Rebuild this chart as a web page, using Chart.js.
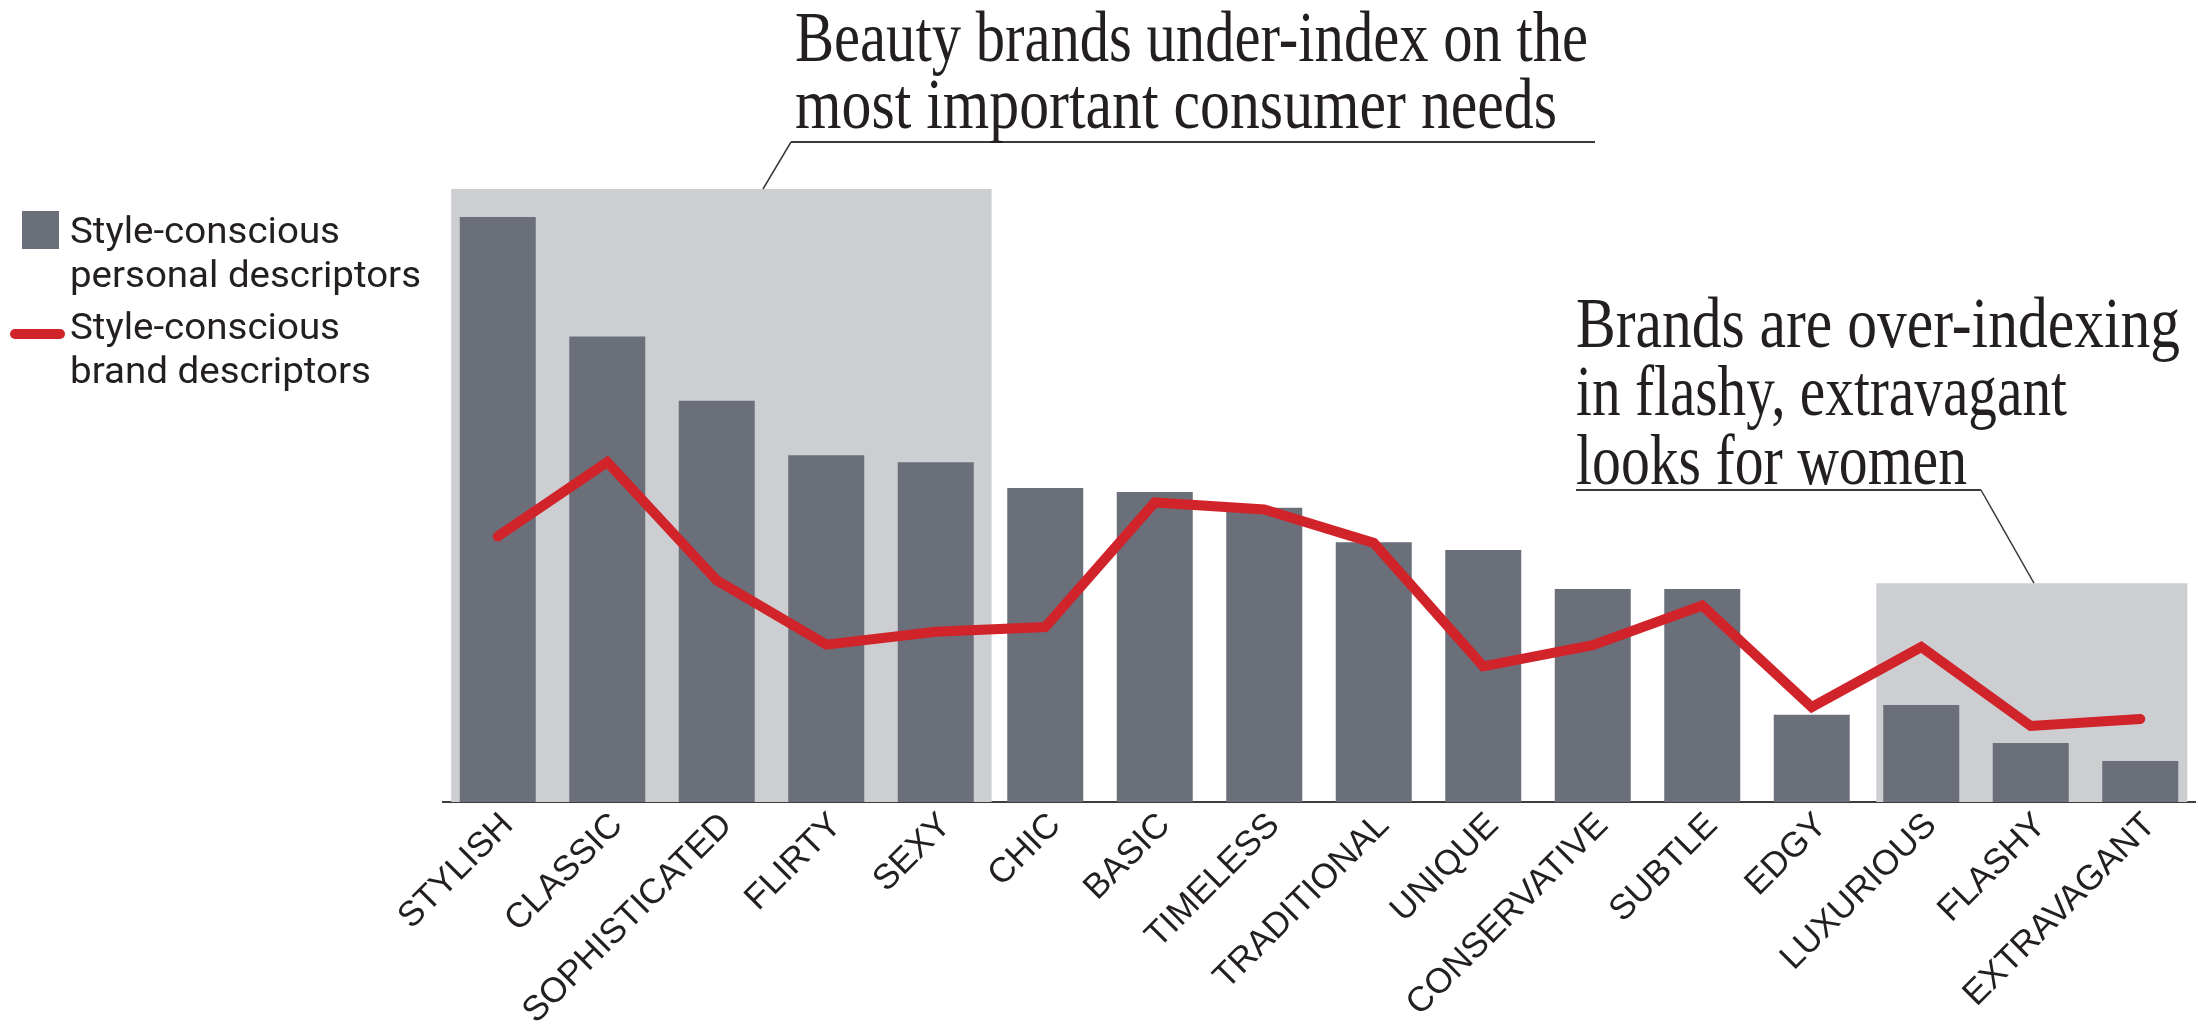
<!DOCTYPE html>
<html><head><meta charset="utf-8">
<script src="https://cdn.jsdelivr.net/npm/chart.js@4/dist/chart.umd.min.js"></script>
<style>
html,body{margin:0;padding:0;background:#fff;}
#wrap{position:relative;width:2198px;height:1034px;overflow:hidden;background:#fff;}
#c{position:absolute;left:0;top:0;}
#ov{position:absolute;left:0;top:0;pointer-events:none;}
.t{position:absolute;white-space:nowrap;color:#231f20;transform-origin:0 0;margin:0;padding:0;}
</style></head><body>
<div id="wrap">
<canvas id="c" width="2198" height="1034"></canvas>
<svg id="ov" width="2198" height="1034" xmlns="http://www.w3.org/2000/svg"></svg>
</div>
<script>
// ---- data ----
const categories = ["STYLISH","CLASSIC","SOPHISTICATED","FLIRTY","SEXY","CHIC","BASIC","TIMELESS","TRADITIONAL","UNIQUE","CONSERVATIVE","SUBTLE","EDGY","LUXURIOUS","FLASHY","EXTRAVAGANT"];
const personalValues = [100, 79.6, 68.6, 59.3, 58.1, 53.7, 53.0, 50.3, 44.4, 43.1, 36.4, 36.4, 14.9, 16.6, 10.1, 7.0];
const brandValues = [45.4, 58.1, 37.9, 26.9, 29.1, 29.9, 51.2, 50.0, 44.3, 23.2, 26.8, 33.6, 16.2, 26.5, 13.0, 14.2];
const seriesNames = ["Style-conscious personal descriptors", "Style-conscious brand descriptors"];
const legendPersonal = ["Style-conscious", "personal descriptors"];
const legendBrand = ["Style-conscious", "brand descriptors"];
const noteLeft = ["Beauty brands under-index on the", "most important consumer needs"];
const noteRight = ["Brands are over-indexing", "in flashy, extravagant", "looks for women"];
const leftHighlight = ["STYLISH", "SEXY"];
const rightHighlight = ["LUXURIOUS", "EXTRAVAGANT"];
const yMax = 104.8;
const rightHighlightTop = 37.4;

// ---- styles ----
const BAR = '#6b6f7a', SHADE = '#cdced2', RED = '#d0232a', INK = '#231f20';

const highlightPlugin = {
  id: 'highlights',
  beforeDatasetsDraw(chart) {
    const x = chart.scales.x, y = chart.scales.y, ctx = chart.ctx;
    const cw = x.getPixelForValue(1) - x.getPixelForValue(0);
    const i0 = categories.indexOf(leftHighlight[0]), i1 = categories.indexOf(leftHighlight[1]);
    const j0 = categories.indexOf(rightHighlight[0]), j1 = categories.indexOf(rightHighlight[1]);
    ctx.save();
    ctx.fillStyle = SHADE;
    const lx0 = x.getPixelForValue(i0) - cw*0.5 + cw*0.075;
    const lx1 = x.getPixelForValue(i1) + cw*0.5 + cw*0.01;
    const ly0 = y.getPixelForValue(yMax), yb = y.getPixelForValue(0);
    ctx.fillRect(lx0, ly0, lx1 - lx0, yb - ly0);
    const rx0 = x.getPixelForValue(j0) - cw*0.5 + cw*0.09;
    const rx1 = x.getPixelForValue(j1) + cw*0.5 - cw*0.07;
    const ry0 = y.getPixelForValue(rightHighlightTop);
    ctx.fillRect(rx0, ry0, rx1 - rx0, yb - ry0);
    ctx.restore();
    chart.$boxes = {left:[lx0, ly0, lx1], right:[rx0, ry0, rx1]};
  }
};

const chart = new Chart(document.getElementById('c'), {
  data: {
    labels: categories,
    datasets: [
      { type: 'line', label: seriesNames[1], data: brandValues, borderColor: RED, backgroundColor: RED,
        borderWidth: 10, pointRadius: 0, tension: 0, borderCapStyle: 'round', borderJoinStyle: 'miter', order: 0 },
      { type: 'bar', label: seriesNames[0], data: personalValues, backgroundColor: BAR,
        barPercentage: 0.694, categoryPercentage: 1.0, order: 1 }
    ]
  },
  options: {
    responsive: false, animation: false, devicePixelRatio: 1,
    layout: { padding: { left: 443, right: 3, top: 189, bottom: 0 } },
    plugins: { legend: { display: false }, tooltip: { enabled: false }, title: { display: false } },
    scales: {
      x: {
        offset: true,
        grid: { display: false, drawTicks: false },
        border: { display: true, color: '#3d3d3d', width: 2 },
        ticks: { autoSkip: false, maxRotation: 45, minRotation: 45, padding: 3, labelOffset: 10, color: INK,
                 font: { family: "'Liberation Sans', Arial, sans-serif", size: 35 } },
        afterFit(s) { s.height = 232; }
      },
      y: { display: false, min: 0, max: yMax }
    }
  },
  plugins: [highlightPlugin]
});

// ---- text & decorations ----
const wrap = document.getElementById('wrap');
const mctx = document.createElement('canvas').getContext('2d');
function placeText(str, family, size, x, baseline, width) {
  mctx.font = `${size}px ${family}`;
  const m = mctx.measureText(str);
  const asc = m.fontBoundingBoxAscent, desc = m.fontBoundingBoxDescent;
  const lh = Math.round(size * 1.3);
  const top = baseline - ((lh - (asc + desc)) / 2 + asc);
  const sx = width ? width / m.width : 1;
  const d = document.createElement('div');
  d.className = 't';
  d.textContent = str;
  d.style.font = `${size}px ${family}`;
  d.style.lineHeight = lh + 'px';
  d.style.left = x + 'px';
  d.style.top = top + 'px';
  d.style.transform = `scaleX(${sx})`;
  wrap.appendChild(d);
}
const SERIF = "'Liberation Serif', 'Times New Roman', serif";
const SANS = "Roboto, 'Liberation Sans', sans-serif";

// annotations
placeText(noteLeft[0], SERIF, 71, 795, 61, 793);
placeText(noteLeft[1], SERIF, 71, 795, 128, 762);
placeText(noteRight[0], SERIF, 71, 1576, 347, 604);
placeText(noteRight[1], SERIF, 71, 1576, 415, 491);
placeText(noteRight[2], SERIF, 71, 1576, 484, 391);

// legend
placeText(legendPersonal[0], SANS, 37, 70, 243, 270);
placeText(legendPersonal[1], SANS, 37, 70, 287, 351);
placeText(legendBrand[0], SANS, 37, 70, 339, 270);
placeText(legendBrand[1], SANS, 37, 70, 383, 301);

const svg = document.getElementById('ov');
const NS = 'http://www.w3.org/2000/svg';
function el(tag, attrs) { const e = document.createElementNS(NS, tag); for (const k in attrs) e.setAttribute(k, attrs[k]); svg.appendChild(e); return e; }
// legend swatches
el('rect', {x: 22, y: 211, width: 37, height: 38, fill: BAR});
el('line', {x1: 15, y1: 334, x2: 60, y2: 334, stroke: RED, 'stroke-width': 10, 'stroke-linecap': 'round'});
// underlines and leaders
const b = chart.$boxes;
el('line', {x1: 791, y1: 142, x2: 1595, y2: 142, stroke: '#3a3a3a', 'stroke-width': 2});
el('line', {x1: 791, y1: 142, x2: 763, y2: b.left[1], stroke: '#3a3a3a', 'stroke-width': 1.5});
el('line', {x1: 1576, y1: 490, x2: 1981, y2: 490, stroke: '#3a3a3a', 'stroke-width': 2});
el('line', {x1: 1981, y1: 490, x2: 2034, y2: b.right[1], stroke: '#3a3a3a', 'stroke-width': 1.5});
</script>
</body></html>
